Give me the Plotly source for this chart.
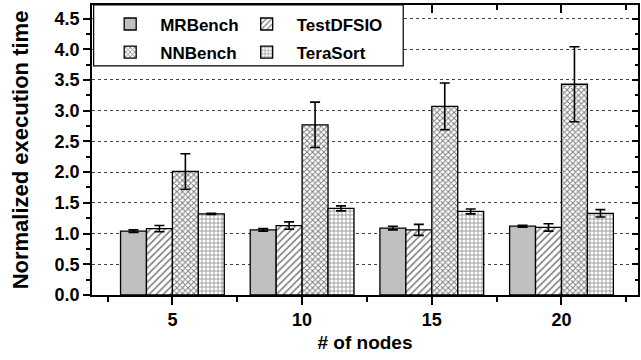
import plotly.graph_objects as go

nodes = [5, 10, 15, 20]
tick_text = ["5", "10", "15", "20"]
mrbench = [1.04, 1.06, 1.09, 1.12]
mrbench_err = [0.02, 0.02, 0.03, 0.015]
testdfsio = [1.08, 1.13, 1.06, 1.10]
testdfsio_err = [0.05, 0.06, 0.09, 0.06]
nnbench = [2.01, 2.77, 3.07, 3.43]
nnbench_err = [0.29, 0.37, 0.38, 0.61]
terasort = [1.32, 1.41, 1.36, 1.33]
terasort_err = [0.01, 0.04, 0.04, 0.06]

FONT = "Liberation Sans"
fig = go.Figure()

def add(name, y, err, color, pattern, legend):
    fig.add_bar(
        x=nodes, y=y, name=name, legend=legend, legendgroup=name,
        marker=dict(color=color, line=dict(color="black", width=1.3), pattern=pattern),
        error_y=dict(type="data", array=err, color="black", thickness=1.6, width=5),
    )

add("MRBench", mrbench, mrbench_err, "#c0c0c0", dict(shape=""), "legend")
add("TestDFSIO", testdfsio, testdfsio_err, "white",
    dict(shape="/", fgcolor="black", bgcolor="white", size=5, solidity=0.32), "legend2")
add("NNBench", nnbench, nnbench_err, "white",
    dict(shape="x", fgcolor="black", bgcolor="white", size=4, solidity=0.45), "legend")
add("TeraSort", terasort, terasort_err, "white",
    dict(shape="+", fgcolor="black", bgcolor="white", size=4, solidity=0.32), "legend2")

# dummy trace for mirror axes
fig.add_scatter(x=[None], y=[None], xaxis="x2", yaxis="y2", showlegend=False, hoverinfo="skip")

xr = [1.9, 22.95]
yr = [0, 4.72]
minor_x = [2.5, 7.5, 12.5, 17.5, 22.5]

fig.update_layout(
    width=641, height=360,
    margin=dict(l=92, r=1, t=5, b=65),
    plot_bgcolor="white", paper_bgcolor="white",
    barmode="group", bargap=0.2, bargroupgap=0,
    font=dict(family=FONT, color="black"),
    xaxis=dict(
        range=xr, tickvals=nodes, ticktext=tick_text, ticks="outside", ticklen=8, tickwidth=1.5,
        tickcolor="black", showline=True, linecolor="black", linewidth=1.5, mirror=True,
        showgrid=False, zeroline=False,
        tickfont=dict(family=FONT, size=18, color="black", weight="bold"),
        minor=dict(tickvals=minor_x, ticks="outside", ticklen=5, tickwidth=1.5, tickcolor="black"),
        title=dict(text="<b># of nodes</b>", font=dict(family=FONT, size=19, color="black"), standoff=6),
    ),
    yaxis=dict(
        range=yr, tickvals=[0, 0.5, 1, 1.5, 2, 2.5, 3, 3.5, 4, 4.5],
        ticktext=["0.0", "0.5", "1.0", "1.5", "2.0", "2.5", "3.0", "3.5", "4.0", "4.5"],
        ticks="outside", ticklen=7, tickwidth=1.5, tickcolor="black",
        showline=True, linecolor="black", linewidth=1.5, mirror=True,
        showgrid=True, gridcolor="#444", griddash="dot", gridwidth=1, zeroline=False,
        tickfont=dict(family=FONT, size=18, color="black", weight="bold"),
        minor=dict(dtick=0.25, tick0=0, ticks="outside", ticklen=4, tickwidth=1.5, tickcolor="black", showgrid=False),
        title=dict(text="<b>Normalized execution time</b>", font=dict(family=FONT, size=22, color="black"), standoff=20),
    ),
    xaxis2=dict(
        range=xr, overlaying="x", side="top", anchor="y", tickvals=nodes, ticks="inside", ticklen=8,
        tickwidth=1.5, tickcolor="black", showticklabels=False, showgrid=False, zeroline=False, showline=False,
        minor=dict(tickvals=minor_x, ticks="inside", ticklen=5, tickwidth=1.5, tickcolor="black"),
    ),
    yaxis2=dict(
        range=yr, overlaying="y", side="right", anchor="x", dtick=0.5, tick0=0, ticks="inside", ticklen=6,
        tickwidth=1.5, tickcolor="black", showticklabels=False, showgrid=False, zeroline=False, showline=False,
        minor=dict(dtick=0.25, tick0=0, ticks="inside", ticklen=3, tickwidth=1.5, tickcolor="black"),
    ),
    legend=dict(x=0.015, y=0.995, xanchor="left", yanchor="top", bgcolor="rgba(0,0,0,0)", borderwidth=0,
                font=dict(family=FONT, size=17, color="black", weight="bold"), tracegroupgap=3, itemwidth=50),
    legend2=dict(x=0.265, y=0.995, xanchor="left", yanchor="top", bgcolor="rgba(0,0,0,0)", borderwidth=0,
                 font=dict(family=FONT, size=17, color="black", weight="bold"), tracegroupgap=3, itemwidth=50),
    shapes=[dict(type="rect", xref="paper", yref="paper", x0=0.003, x1=0.57, y0=0.79, y1=1.0,
                 line=dict(color="black", width=1.2), fillcolor="white", layer="above")],
)

fig.write_html("out.html")
